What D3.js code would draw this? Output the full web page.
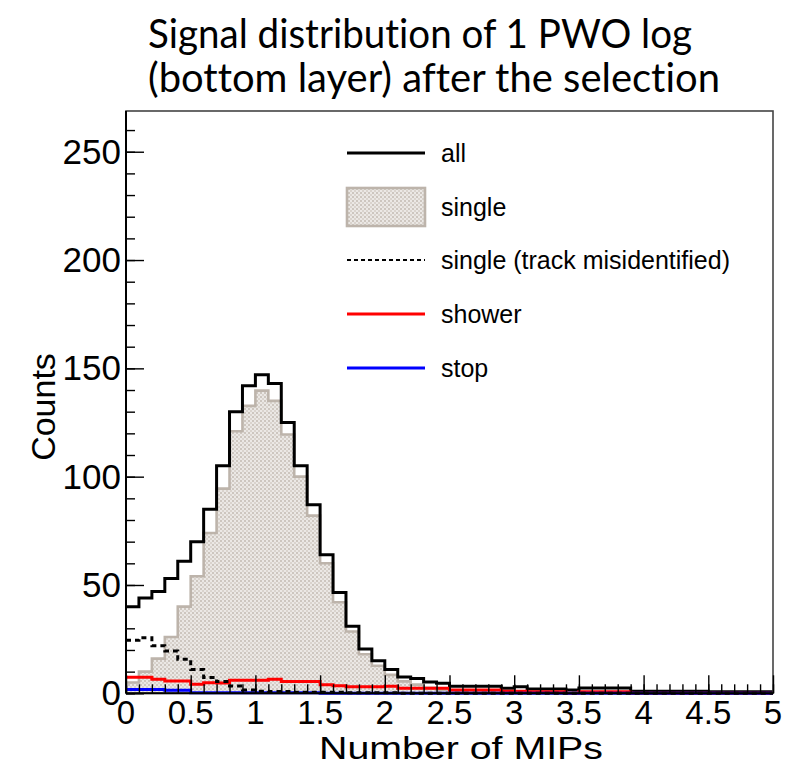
<!DOCTYPE html>
<html><head><meta charset="utf-8">
<script src="https://cdn.jsdelivr.net/npm/d3@7"></script>
<style>body{margin:0;background:#fff} text{font-variant-ligatures:none}</style>
</head><body>
<svg id="c" width="801" height="770"></svg>
<script>
// ---- data (50 bins of width 0.1 MIP, from 0 to 5) ----
const binEdges0 = 0, binWidth = 0.1;
const allCounts = [40,44,47,53,61,70,85,105,130,142,147,143,125,105,87,64,46.5,31,20.5,15,
  11,7.5,6.8,5.2,4.6,3.2,3.2,3.2,3.2,2.3,3,2,2,2,1.5,2.5,2.5,2.5,2.5,1,
  1,1,1,1,1,0.7,0.7,0.7,0.7,0.7];
const singleCounts = [5,10,16,26,40,54,74,94.5,121,132.7,139.7,135,119.5,100,82,60,42,28.5,18,12.7,
  8.5,5.5,4,2.5,1.5,1,0.5,0.5,0.5,0.3,0.3,0.3,0.3,0,0,0.3,0.3,0.3,0,0,
  0,0,0,0,0,0,0,0,0,0];
const misidCounts = [24.5,25.7,22,19.5,15.7,11,7.3,5.4,3.4,1.5,1,0.8,0.8,0.5,0.5,0.5,0.5,0.3,0.3,0.3,
  0.3,0,0,0,0,0,0,0,0,0,0,0,0,0,0,0,0,0,0,0,
  0,0,0,0,0,0,0,0,0,0];
const showerCounts = [7.4,7.4,6.5,5.7,5.7,4.2,4.9,4.8,6,6,6,6.5,5.5,5.5,5.5,4,3.5,3,3,3,
  3.2,2.3,2.3,2.3,2.3,1.5,1.5,1.5,1.5,1,1,0.7,0.7,0.7,0,0.7,0.7,0.7,0.7,0,
  0,0,0,0,0,0,0,0,0,0];
const stopCounts = [1.8,1.8,1.8,1.4,1.4,0.3,0.3,0.3,0.3,0.3,0.3,0.3,0.3,0.3,0.3,0,0,0,0,0,
  0,0,0,0,0,0,0,0,0,0,0,0,0,0,0,0,0,0,0,0,
  0,0,0,0,0,0,0,0,0,0];
const xTicks = [0,0.5,1,1.5,2,2.5,3,3.5,4,4.5,5];
const yTicks = [0,50,100,150,200,250];
const legendLabels = ["all","single","single (track misidentified)","shower","stop"];
const titleLines = ["Signal distribution of 1 PWO log","(bottom layer) after the selection"];

// ---- layout ----
const svg = d3.select("#c");
const L = 126, R = 773, T = 111, B = 693.3;
const x = d3.scaleLinear().domain([0,5]).range([L,R]);
const y = d3.scaleLinear().domain([0,268.8]).range([B,T]);

// pattern for the "single" fill
const defs = svg.append("defs");
const pat = defs.append("pattern").attr("id","dots").attr("width",4).attr("height",4)
  .attr("patternUnits","userSpaceOnUse");
pat.append("rect").attr("width",4).attr("height",4).attr("fill","#ebe8e5");
pat.append("rect").attr("x",0).attr("y",0).attr("width",2).attr("height",2).attr("fill","#cdc6bf");
pat.append("rect").attr("x",2).attr("y",2).attr("width",2).attr("height",2).attr("fill","#d9d3cd");
const clip = defs.append("clipPath").attr("id","plot");
clip.append("rect").attr("x",L).attr("y",T).attr("width",R-L).attr("height",B-T+3);

// title
const titleLen = [544, 572];
svg.selectAll("text.title").data(titleLines).join("text")
  .attr("class","title")
  .attr("x",148).attr("y",(d,i)=>48+i*44)
  .attr("text-anchor","start")
  .attr("font-family","Lato, 'Open Sans', sans-serif")
  .attr("font-size",40).attr("fill","#000")
  .attr("textLength",(d,i)=>titleLen[i]).attr("lengthAdjust","spacingAndGlyphs")
  .text(d=>d);

function stepPts(counts){
  const pts = [];
  counts.forEach((v,i)=>{
    const a = binEdges0 + i*binWidth;
    pts.push([a,v]); pts.push([a+binWidth,v]);
  });
  return pts;
}
const g = svg.append("g").attr("clip-path","url(#plot)");
const line = d3.line().x(d=>x(d[0])).y(d=>y(d[1]));
const area = d3.area().x(d=>x(d[0])).y0(y(0)).y1(d=>y(d[1]));

// single (filled)
g.append("path").datum(stepPts(singleCounts)).attr("d",area).attr("fill","url(#dots)");
g.append("path").datum(stepPts(singleCounts)).attr("d",line)
  .attr("fill","none").attr("stroke","#bdb4ab").attr("stroke-width",2.6);
// all
g.append("path").datum(stepPts(allCounts)).attr("d",line)
  .attr("fill","none").attr("stroke","#000").attr("stroke-width",3);
// shower
g.append("path").datum(stepPts(showerCounts)).attr("d",line)
  .attr("fill","none").attr("stroke","#ff0000").attr("stroke-width",3);
// stop
g.append("path").datum(stepPts(stopCounts)).attr("d",line)
  .attr("fill","none").attr("stroke","#0000ff").attr("stroke-width",3);
// misidentified
g.append("path").datum(stepPts(misidCounts)).attr("d",line)
  .attr("fill","none").attr("stroke","#000").attr("stroke-width",3)
  .attr("stroke-dasharray","5,4");

// frame
svg.append("rect").attr("x",L).attr("y",T).attr("width",R-L).attr("height",B-T)
  .attr("fill","none").attr("stroke","#444").attr("stroke-width",1.6);
svg.append("line").attr("x1",L).attr("x2",L).attr("y1",T).attr("y2",B)
  .attr("stroke","#000").attr("stroke-width",2);
svg.append("line").attr("x1",L).attr("x2",R).attr("y1",B).attr("y2",B)
  .attr("stroke","#000").attr("stroke-width",2);

// x axis (ticks pointing up)
const xMinor = d3.range(0,5.0001,0.1);
const xAxisMinor = d3.axisTop(x).tickValues(xMinor).tickSize(9).tickFormat("");
const xAxisMajor = d3.axisTop(x).tickValues(xTicks).tickSize(18).tickFormat("");
[xAxisMinor,xAxisMajor].forEach(ax=>{
  const a = svg.append("g").attr("transform",`translate(0,${B})`).call(ax);
  a.select(".domain").remove();
  a.selectAll("line").attr("stroke","#000").attr("stroke-width",1.4);
});
svg.selectAll("text.xt").data(xTicks).join("text").attr("class","xt")
  .attr("x",d=>x(d)).attr("y",724).attr("text-anchor","middle")
  .attr("font-family","'Liberation Sans', Arial, sans-serif").attr("font-size",33)
  .text(d=>d3.format("~g")(d));

// y axis (ticks pointing right)
const yMinor = d3.range(0,261,10);
const yAxisMinor = d3.axisRight(y).tickValues(yMinor).tickSize(9).tickFormat("");
const yAxisMajor = d3.axisRight(y).tickValues(yTicks).tickSize(18).tickFormat("");
[yAxisMinor,yAxisMajor].forEach(ax=>{
  const a = svg.append("g").attr("transform",`translate(${L},0)`).call(ax);
  a.select(".domain").remove();
  a.selectAll("line").attr("stroke","#000").attr("stroke-width",1.4);
});
svg.selectAll("text.yt").data(yTicks).join("text").attr("class","yt")
  .attr("x",121).attr("y",d=>y(d)+12).attr("text-anchor","end")
  .attr("font-family","'Liberation Sans', Arial, sans-serif").attr("font-size",35)
  .text(d=>d);

// axis titles
svg.append("text").attr("x",461).attr("y",759).attr("text-anchor","middle")
  .attr("font-family","'Liberation Sans', Arial, sans-serif").attr("font-size",32)
  .attr("textLength",284).attr("lengthAdjust","spacingAndGlyphs")
  .text("Number of MIPs");
svg.append("text").attr("transform","translate(55,407) rotate(-90)").attr("text-anchor","middle")
  .attr("font-family","'Liberation Sans', Arial, sans-serif").attr("font-size",34)
  .text("Counts");

// legend
const legY = [153,207,260,314,368];
const legStyle = [
  {stroke:"#000",dash:null},
  {box:true},
  {stroke:"#000",dash:"4,3"},
  {stroke:"#ff0000",dash:null},
  {stroke:"#0000ff",dash:null}
];
const lg = svg.append("g");
legendLabels.forEach((lab,i)=>{
  const s = legStyle[i];
  if(s.box){
    lg.append("rect").attr("x",347).attr("y",legY[i]-19).attr("width",78).attr("height",38)
      .attr("fill","url(#dots)").attr("stroke","#bdb4ab").attr("stroke-width",2.6);
  } else {
    lg.append("line").attr("x1",347).attr("x2",425).attr("y1",legY[i]).attr("y2",legY[i])
      .attr("stroke",s.stroke).attr("stroke-width",s.dash?2:3)
      .attr("stroke-dasharray",s.dash);
  }
  lg.append("text").attr("x",441).attr("y",legY[i]+9)
    .attr("font-family","'Liberation Sans', Arial, sans-serif").attr("font-size",25)
    .text(lab);
});
</script>
</body></html>
